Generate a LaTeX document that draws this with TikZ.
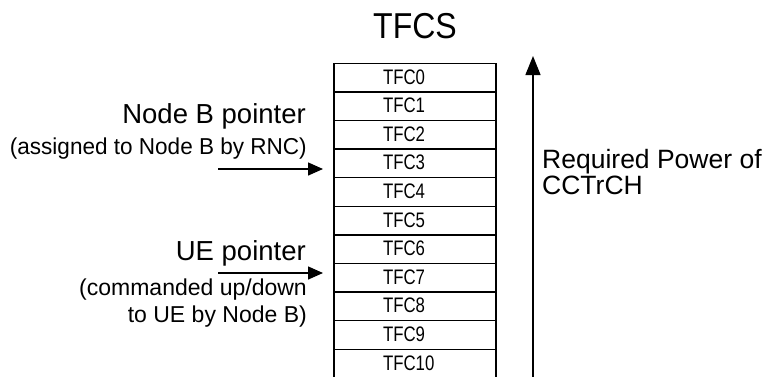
\documentclass[tikz,border=0pt]{standalone}
\usepackage{fontspec}
\usepackage{graphicx}
\setmainfont{Liberation Sans}
\usetikzlibrary{arrows.meta}

% horizontally condensed text
\newcommand{\narrow}[2]{\scalebox{#1}[1]{#2}}

\tikzset{
  cell/.style={draw, line width=1.3pt, minimum width=162pt, minimum height=28.6pt,
               inner sep=0pt, outer sep=0pt, font=\fontsize{21}{21}\selectfont},
  headlbl/.style={inner sep=0pt, font=\fontsize{27.5}{27.5}\selectfont},
  biglbl/.style={inner sep=0pt, font=\fontsize{26.5}{26.5}\selectfont},
  smalllbl/.style={inner sep=0pt, font=\fontsize{23}{23}\selectfont},
  pointer/.style={line width=1.4pt, -{Triangle[length=15pt,width=13pt]}},
  powerarrow/.style={line width=1.4pt, -{Triangle[length=19pt,width=15pt]}}
}

\begin{document}
\begin{tikzpicture}[x=1pt, y=-1pt]
\useasboundingbox (0,0) rectangle (770,376);
\clip (0,0) rectangle (770,376);

% title
\node[inner sep=0pt, anchor=base, font=\fontsize{36}{36}\selectfont] (title) at (415,38) {\narrow{0.89}{TFCS}};

% stack of transport format combinations (labels set flush left with an indent)
\foreach \i in {0,...,10}
  \node[cell] (tfc\i) at (415,{77.6+28.6*\i})
    {\makebox[162pt][l]{\hspace{49pt}\raisebox{1.5pt}{\narrow{0.8}{TFC\i}}}};

% Node B pointer
\node[headlbl, anchor=base east] (nbhead) at (306,123) {Node B pointer};
\node[smalllbl, anchor=base east] (nbsub) at (307,154) {\narrow{0.98}{(assigned to Node B by RNC)}};
\coordinate (nbtail) at (218,169);
\coordinate (nbtip) at (323,169);
\draw[pointer] (nbtail) -- (nbtip);

% UE pointer
\node[headlbl, anchor=base east] (uehead) at (306,260) {UE pointer};
\node[smalllbl, anchor=base east] (uesub1) at (307,295) {(commanded up/down};
\node[smalllbl, anchor=base east] (uesub2) at (307,322) {to UE by Node B)};
\coordinate (uetail) at (218,273);
\coordinate (uetip) at (323,273);
\draw[pointer] (uetail) -- (uetip);

% required power axis
\coordinate (pwrlo) at (533,380);
\coordinate (pwrhi) at (533,56);
\draw[powerarrow] (pwrlo) -- (pwrhi);
\node[biglbl, anchor=base west] (pwr1) at (542,168) {Required Power of};
\node[biglbl, anchor=base west] (pwr2) at (542,194) {CCTrCH};
\end{tikzpicture}
\end{document}
